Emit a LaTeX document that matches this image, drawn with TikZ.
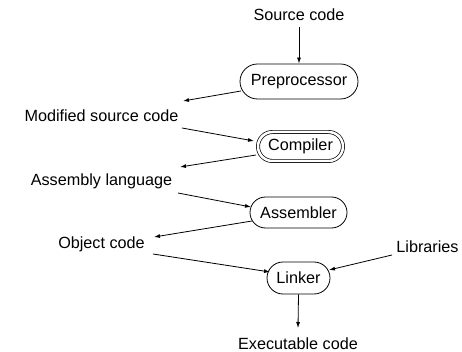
\documentclass[tikz,border=0pt]{standalone}
\usepackage{fontspec}
\setmainfont{Liberation Sans}
\usetikzlibrary{shapes.misc,calc,arrows.meta}
\begin{document}
\begin{tikzpicture}[x=1pt,y=-1pt,
  every node/.style={font=\fontsize{16.2}{19}\selectfont, inner sep=0pt},
  lbl/.style={},
  proc/.style={rounded rectangle, draw, line width=0.8pt},
  dproc/.style={rounded rectangle, draw, line width=0.7pt, double, double distance=2.5pt},
  conn/.style={line width=0.8pt, -{Latex[length=6pt,width=4pt]}}]
\useasboundingbox (0,0) rectangle (462,352);
\node[lbl] (src) at (299,15) {Source code};
\node[proc, minimum width=118pt, minimum height=35pt] (pre) at (299,81.5) {Preprocessor};
\node[lbl] (mod) at (101.5,116) {Modified source code};
\node[dproc, minimum width=85pt, minimum height=29pt] (comp) at (300.5,146.5) {Compiler};
\node[lbl] (asm) at (101.5,181) {Assembly language};
\node[proc, minimum width=97pt, minimum height=31pt] (asmb) at (298.5,212.5) {Assembler};
\node[lbl] (obj) at (101.5,244) {Object code};
\node[proc, minimum width=63pt, minimum height=32pt] (lnk) at (298.5,278) {Linker};
\node[lbl] (lib) at (427.5,247) {Libraries};
\node[lbl] (exe) at (298,344) {Executable code};

\draw[conn] ($(src)+(0,12)$) -- (pre.north);
\draw[conn] ($(pre)+(-58,9.5)$) -- ($(mod)+(81.5,-15)$);
\draw[conn] ($(mod)+(80.5,12)$) -- ($(comp)+(-46.5,-5.5)$);
\draw[conn] ($(comp)+(-44.5,8.5)$) -- ($(asm)+(78.5,-14)$);
\draw[conn] ($(asm)+(76.5,12)$) -- ($(asmb)+(-47.5,-5.5)$);
\draw[conn] ($(asmb)+(-46.5,8.5)$) -- ($(obj)+(52.5,-7)$);
\draw[conn] ($(obj)+(51.5,10)$) -- ($(lnk)+(-28.5,-6)$);
\draw[conn] ($(lib)+(-35.5,8)$) -- ($(lnk)+(30.5,-8)$);
\draw[conn] (lnk.south) -- ($(exe)+(0,-16)$);
\end{tikzpicture}
\end{document}
